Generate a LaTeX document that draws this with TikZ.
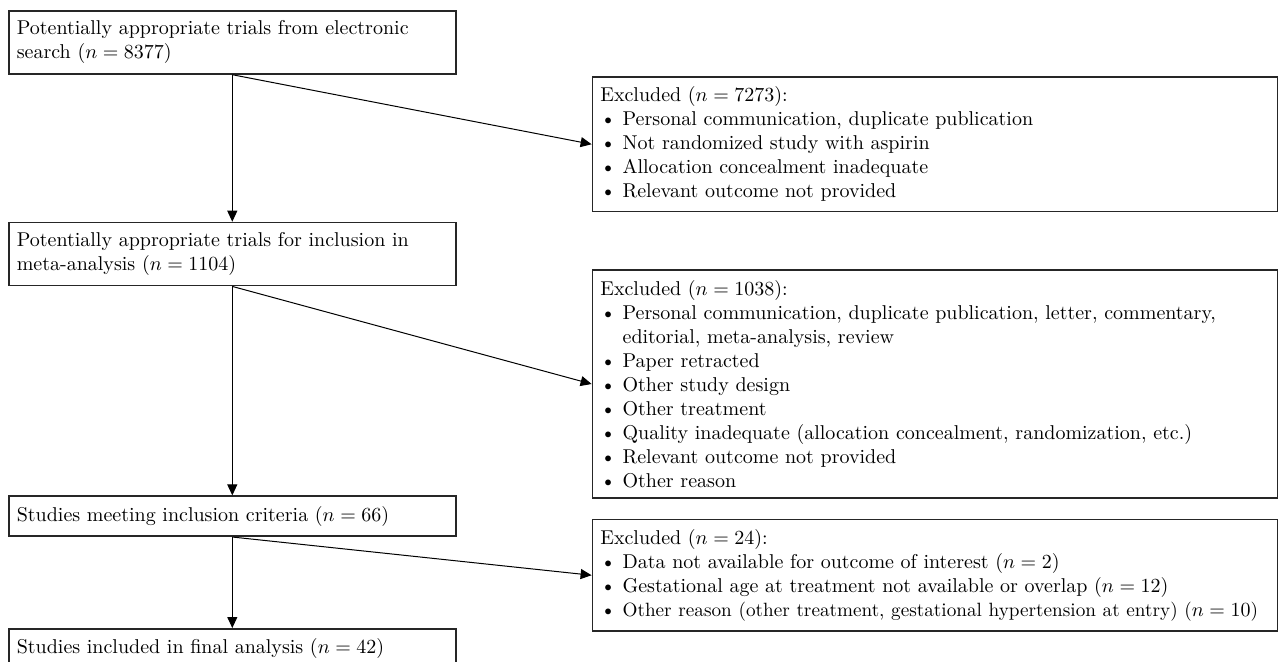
\documentclass[tikz,border=0pt]{standalone}
\usetikzlibrary{positioning, arrows.meta}
\tikzstyle{n} = [rectangle, draw=black!85, line width=0.8pt, inner xsep=4pt, inner ysep=5pt, text width=215.5pt, align=left]
\tikzstyle{excl} = [rectangle, draw=black!85, line width=0.8pt, inner xsep=4pt, inner ysep=5pt, text width=334.5pt, align=left]
\tikzstyle{arr} = [-{Triangle[length=5.5pt, width=5pt]}, line width=0.5pt]

\begin{document}
\begin{tikzpicture}

    \useasboundingbox (0,0) rectangle (639.5pt,-330.5pt);

    \node[n, anchor=north west] (S) at (4pt,-5pt) {
        Potentially appropriate trials from electronic\\ search ($n = 8377$)
    };
    \node[n, below=73.5pt of S.south west, anchor=north west] (M) {
        Potentially appropriate trials for inclusion in\\ meta-analysis ($n = 1104$)
    };
    \node[n, below=104.5pt of M.south west, anchor=north west] (I) {
        Studies meeting inclusion criteria ($n = 66$)
    };
    \node[n, below=45.5pt of I.south west, anchor=north west] (F) {
        Studies included in final analysis ($n = 42$)
    };

    \node[excl, below right=33pt and 67.5pt of S.north east, anchor=north west] (X) {
        Excluded ($n = 7273$):\\
        \textbullet\ Personal communication, duplicate publication\\
        \textbullet\ Not randomized study with aspirin\\
        \textbullet\ Allocation concealment inadequate\\
        \textbullet\ Relevant outcome not provided
    };
    \node[excl, below=28.5pt of X.south west, anchor=north west] (Y) {
        Excluded ($n = 1038$):\\
        \textbullet\ Personal communication, duplicate publication, letter, commentary,\\
        \phantom{\textbullet\ }editorial, meta-analysis, review\\
        \textbullet\ Paper retracted\\
        \textbullet\ Other study design\\
        \textbullet\ Other treatment\\
        \textbullet\ Quality inadequate (allocation concealment, randomization, etc.)\\
        \textbullet\ Relevant outcome not provided\\
        \textbullet\ Other reason
    };
    \node[excl, below=10pt of Y.south west, anchor=north west] (Z) {
        Excluded ($n = 24$):\\
        \textbullet\ Data not available for outcome of interest ($n = 2$)\\
        \textbullet\ Gestational age at treatment not available or overlap ($n = 12$)\\
        \textbullet\ {\fontsize{9.6pt}{12pt}\selectfont Other reason (other treatment, gestational hypertension at entry) ($n = 10$)}
    };

    % Define edges
    \path[arr]
        (S.south) edge (M.north)
        (S.south) edge (X.west)
        (M.south) edge (I.north)
        (M.south) edge (Y.west)
        (I.south) edge (F.north)
        (I.south) edge (Z.west);

\end{tikzpicture}
\end{document}
